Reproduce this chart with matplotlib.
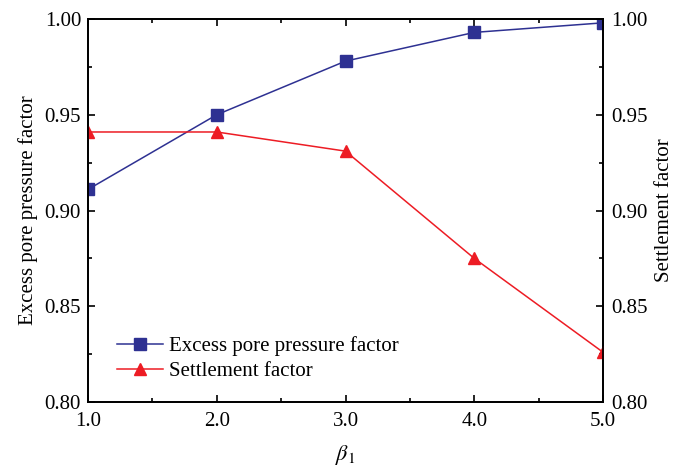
import numpy as np
import matplotlib
matplotlib.use("Agg")
import matplotlib.pyplot as plt
from matplotlib.ticker import MultipleLocator

plt.rcParams['font.family'] = ['Liberation Serif', 'DejaVu Serif']
plt.rcParams['mathtext.fontset'] = 'stix'

beta = [1.0, 2.0, 3.0, 4.0, 5.0]
pore = [0.911, 0.950, 0.978, 0.993, 0.998]
settle = [0.941, 0.941, 0.931, 0.875, 0.826]

blue = '#2e3192'
red = '#ed1c24'

fig = plt.figure(figsize=(6.83, 4.67), dpi=100)
ax = fig.add_axes([88/683, 1-402/467, (603-88)/683, (402-19)/467])
ax2 = ax.twinx()

l1, = ax.plot(beta, pore, color=blue, marker='s', markersize=8, lw=1.1,
              label='Excess pore pressure factor')
l2, = ax2.plot(beta, settle, color=red, marker='^', markersize=9, lw=1.1,
               label='Settlement factor')

for a in (ax, ax2):
    a.set_xlim(1.0, 5.0)
    a.set_ylim(0.80, 1.00)
    a.yaxis.set_major_locator(MultipleLocator(0.05))
    a.yaxis.set_minor_locator(MultipleLocator(0.025))
    a.yaxis.set_major_formatter(plt.FormatStrFormatter('%.2f'))
    for s in a.spines.values():
        s.set_linewidth(1.3)

ax.xaxis.set_major_locator(MultipleLocator(1.0))
ax.xaxis.set_minor_locator(MultipleLocator(0.5))
ax.xaxis.set_major_formatter(plt.FormatStrFormatter('%.1f'))

ax.tick_params(which='both', direction='in', top=True, labelsize=15, width=1.2)
ax.tick_params(which='major', length=5)
ax.tick_params(which='minor', length=3)
ax.tick_params(axis='y', pad=5)
ax.tick_params(axis='x', pad=7)
ax2.tick_params(which='both', direction='in', labelsize=15, width=1.2, pad=6)
ax2.tick_params(which='major', length=5)
ax2.tick_params(which='minor', length=3)

ax.set_xlabel(r'$\beta_{1}$', fontsize=16, labelpad=9)
ax.set_ylabel('Excess pore pressure factor', fontsize=15, labelpad=5)
ax2.set_ylabel('Settlement factor', fontsize=15, labelpad=5)

ax.legend(handles=[l1, l2], loc='lower left', bbox_to_anchor=(0.056, 0.055),
          frameon=False, fontsize=15, handlelength=2.2, handletextpad=0.3,
          labelspacing=0.25, borderpad=0, borderaxespad=0)

fig.savefig('out.png', dpi=100)
